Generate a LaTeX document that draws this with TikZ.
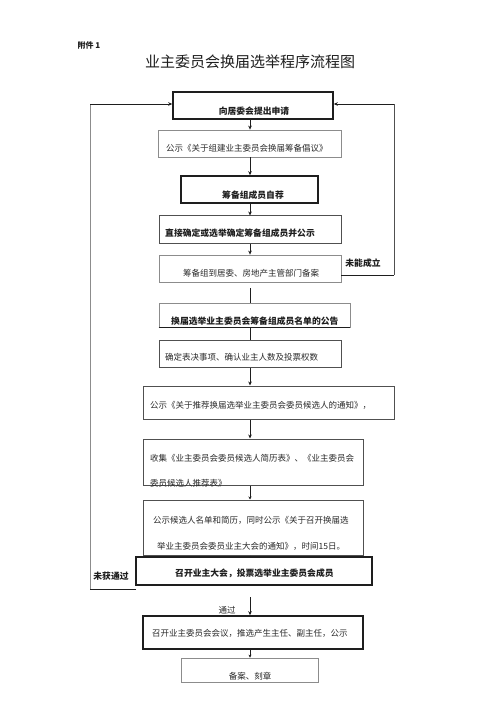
\documentclass[tikz,border=0pt]{standalone}
\usepackage{fontspec}
\setmainfont{Noto Sans CJK SC}
\usetikzlibrary{arrows.meta}
\definecolor{ink}{HTML}{1E1E1E}
\definecolor{soft}{HTML}{8C8C8C}
\definecolor{mid}{HTML}{505050}
\definecolor{txt}{HTML}{2A2A2A}
\begin{document}
\begin{tikzpicture}[x=1pt,y=-1pt,
  boxbase/.style={draw,rectangle,inner sep=0pt},
  heavy/.style={boxbase,draw=ink,line width=1.6pt},
  medium/.style={boxbase,draw=mid,line width=1pt},
  light/.style={boxbase,draw=soft,line width=0.8pt},
  bt/.style={font=\bfseries\fontsize{8.8}{10}\selectfont,text=ink,inner sep=0pt},
  st/.style={font=\fontsize{8.5}{10}\selectfont,text=txt,inner sep=0pt},
  conn/.style={draw=ink,line width=0.8pt},
  arr/.style={conn,-{Stealth[length=4pt,width=3.6pt]}},
  sarr/.style={conn,-{Stealth[length=3pt,width=3pt]}},
]
\useasboundingbox[fill=white] (0,0) rectangle (500,708);

% header
\node[font=\bfseries\fontsize{8}{10}\selectfont,text=ink,inner sep=0pt] (att) at (89,45) {附件 1};
\node[font=\fontsize{15}{18}\selectfont,text=ink,inner sep=0pt] (title) at (250,62) {业主委员会换届选举程序流程图};

% boxes
\node[heavy, minimum width=160,minimum height=27] (b1) at (253,105.5) {};
\node[light, minimum width=183,minimum height=27] (b2) at (249.5,143.5) {};
\node[heavy, minimum width=137,minimum height=27] (b3) at (249.5,189.5) {};
\node[medium,minimum width=182,minimum height=28] (b4) at (250,230) {};
\node[light, minimum width=182,minimum height=27] (b5) at (250,268.5) {};
\node[light, minimum width=191,minimum height=24] (b6) at (254.5,315) {};
\draw[draw=ink,line width=1.6pt] (b6.south west) -- (b6.south east);
\node[medium,minimum width=182,minimum height=27] (b7) at (250,353.5) {};
\node[medium,minimum width=251,minimum height=33] (b8) at (268.5,402.5) {};
\node[medium,minimum width=220,minimum height=46] (b9) at (253,462) {};
\node[medium,minimum width=220,minimum height=55] (b10) at (253,527.5) {};
\node[heavy, minimum width=236,minimum height=28] (b11) at (254,571) {};
\node[heavy, minimum width=220,minimum height=33] (b12) at (253,632.5) {};
\node[light, minimum width=137,minimum height=24] (b13) at (249.5,670) {};

% texts
\node[bt] (t1) at (254,111) {向居委会提出申请};
\node[st,anchor=west] (t2) at (166,148) {公示《关于组建业主委员会换届筹备倡议》};
\node[bt] (t3) at (253,195) {筹备组成员自荐};
\node[bt,anchor=west] (t4) at (165,233) {直接确定或选举确定筹备组成员并公示};
\node[st,anchor=west] (t5) at (183,273) {筹备组到居委、房地产主管部门备案};
\node[bt,anchor=west] (t6) at (171,321) {换届选举业主委员会筹备组成员名单的公告};
\node[st,anchor=west] (t7) at (165,357) {确定表决事项、确认业主人数及投票权数};
\node[st,anchor=west] (t8) at (150,405) {公示《关于推荐换届选举业主委员会委员候选人的通知》，};
\node[st,anchor=west] (t9a) at (150,458) {收集《业主委员会委员候选人简历表》、《业主委员会};
\node[st,anchor=west] (t9b) at (150,483) {委员候选人推荐表》};
\node[st,anchor=west] (t10a) at (153,520) {公示候选人名单和简历，同时公示《关于召开换届选};
\node[st,anchor=west] (t10b) at (157,546) {举业主委员会委员业主大会的通知》，时间15日。};
\node[bt,anchor=west] (t11) at (175,573) {召开业主大会，投票选举业主委员会成员};
\node[st,anchor=west] (t12) at (152,633) {召开业主委员会会议，推选产生主任、副主任，公示};
\node[st] (t13) at (250,676) {备案、刻章};

\node[bt] (lab1) at (363,263) {未能成立};
\node[bt] (lab2) at (111,576) {未获通过};
\node[st] (lab3) at (227,610) {通过};

% helper coordinates
\coordinate (ax) at (250,0);
\coordinate (fy) at (0,104);
\coordinate (c5) at (250,288);
\coordinate (c11) at (250,597);
\coordinate (r0) at (341,275);
\coordinate (rx) at (394,0);
\coordinate (l0) at (136,589);
\coordinate (lx) at (90,0);

% main connectors
\draw[arr] (b1.south -| ax) -- (b2.north -| ax);
\draw[arr] (b2.south -| ax) -- (b3.north -| ax);
\draw[arr] (b3.south -| ax) -- (b4.north -| ax);
\draw[arr] (b4.south -| ax) -- (b5.north -| ax);
\draw[conn] (c5) -- (b6.north -| ax);
\draw[conn] (b6.south -| ax) -- (b7.north -| ax);
\draw[arr] (b7.south -| ax) -- (b8.north -| ax);
\draw[arr] (b8.south -| ax) -- (b9.north -| ax);
\draw[sarr] (b9.south -| ax) -- (b10.north -| ax);
\draw[conn] (b10.south -| ax) -- (b11.north -| ax);
\draw[arr] (c11) -- (b12.north -| ax);
\draw[sarr] (b12.south -| ax) -- (b13.north -| ax);

% feedback right
\draw[conn] (r0) -- (r0 -| rx);
\draw[draw=mid,line width=0.8pt] (r0 -| rx) -- (rx |- fy);
\draw[arr] (rx |- fy) -- (b1.east |- fy);

% feedback left
\draw[conn] (l0) -- (l0 -| lx);
\draw[draw=soft,line width=1pt] (l0 -| lx) -- (lx |- fy);
\draw[arr] (lx |- fy) -- (b1.west |- fy);
\end{tikzpicture}
\end{document}
